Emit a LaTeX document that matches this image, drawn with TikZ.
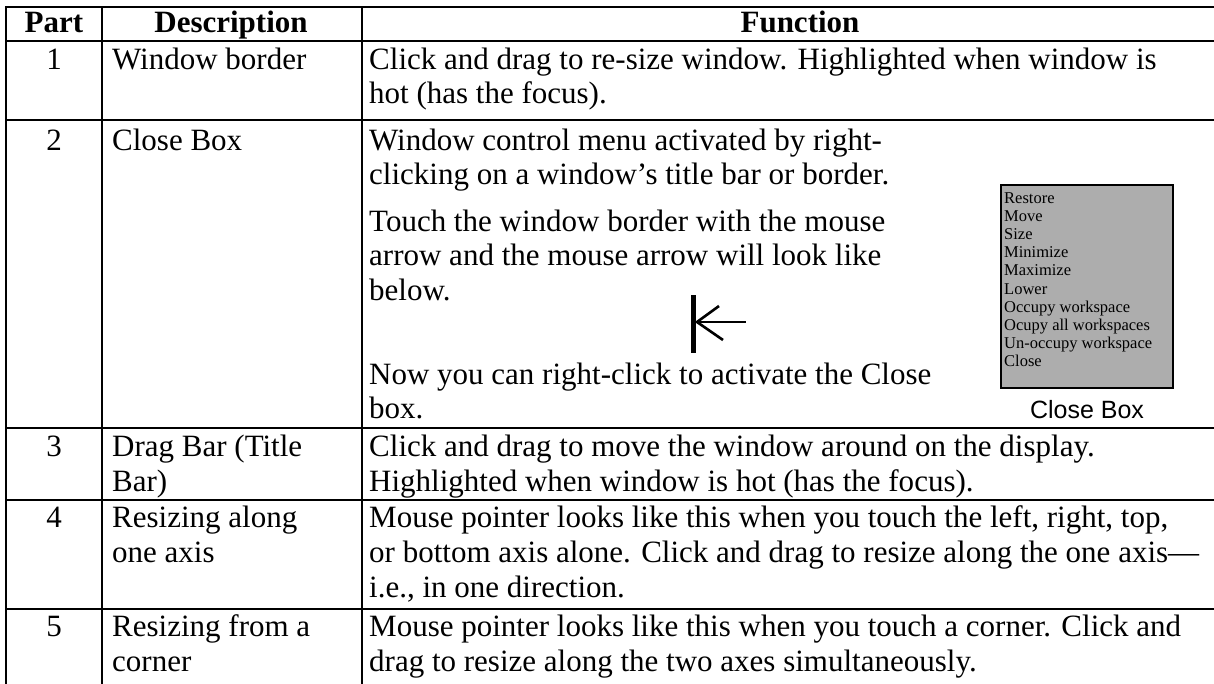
\documentclass[tikz,border=0pt]{standalone}
\usepackage{fontspec}
\setmainfont{Liberation Serif}
\newfontfamily\capfont{Liberation Sans}
\begin{document}
\begin{tikzpicture}[x=1pt,y=-1pt,
  txt/.style={anchor=base west,inner sep=0pt,font=\fontsize{31}{34}\selectfont},
  ctr/.style={anchor=base,inner sep=0pt,font=\fontsize{31}{34}\selectfont},
  hdr/.style={anchor=base,inner sep=0pt,font=\fontsize{31}{34}\selectfont\bfseries},
  menuitem/.style={anchor=base west,inner sep=0pt,font=\fontsize{16.5}{18}\selectfont},
  rule/.style={line width=1.8pt,line cap=rect},
  cursor/.style={line width=2.6pt}]
\useasboundingbox (0,0) rectangle (1214,683);
% grid
\draw[rule] (6,7) -- (1216,7);
\draw[rule] (6,41) -- (1216,41);
\draw[rule] (6,120) -- (1216,120);
\draw[rule] (6,428) -- (1216,428);
\draw[rule] (6,500) -- (1216,500);
\draw[rule] (6,609) -- (1216,609);
\draw[rule] (6,7) -- (6,690);
\draw[rule] (102,7) -- (102,690);
\draw[rule] (362,7) -- (362,690);
% header
\node[hdr] (hpart) at (54,32) {Part};
\node[hdr] (hdesc) at (231,32) {Description};
\node[hdr] (hfunc) at (800,32) {Function};
% row 1
\node[ctr] (n1) at (54,69) {1};
\node[txt] (d1) at (112,69) {Window border};
\node[txt] (f1a) at (369,69) {Click and drag to re-size window. Highlighted when window is};
\node[txt] (f1b) at (369,103.5) {hot (has the focus).};
% row 2
\node[ctr] (n2) at (54,150) {2};
\node[txt] (d2) at (112,150) {Close Box};
\node[txt] (f2a) at (369,150) {Window control menu activated by right-};
\node[txt] (f2b) at (369,184.5) {clicking on a window’s title bar or border.};
\node[txt] (f2c) at (369,231) {Touch the window border with the mouse};
\node[txt] (f2d) at (369,265.5) {arrow and the mouse arrow will look like};
\node[txt] (f2e) at (369,300) {below.};
\node[txt] (f2f) at (369,384) {Now you can right-click to activate the Close};
\node[txt] (f2g) at (369,418.5) {box.};
% cursor glyph
\draw[line width=5pt] (693,295) -- (693,353);
\draw[cursor] (696,322) -- (746,322);
\draw[cursor] (719,306) -- (697,322) -- (723,340);
% close-box menu
\draw[line width=2.4pt,fill=black!32] (1001,185) rectangle (1173,388);
\foreach \t [count=\i from 0] in {Restore,Move,Size,Minimize,Maximize,Lower,Occupy workspace,Ocupy all workspaces,Un-occupy workspace,Close}
  \node[menuitem] (m\i) at (1004,{203+18.2*\i}) {\t};
\node[anchor=base,inner sep=0pt,font=\capfont\fontsize{25}{28}\selectfont] (cap) at (1087,418) {Close Box};
% row 3
\node[ctr] (n3) at (54,456) {3};
\node[txt] (d3a) at (112,456) {Drag Bar (Title};
\node[txt] (d3b) at (112,491) {Bar)};
\node[txt] (f3a) at (369,456) {Click and drag to move the window around on the display.};
\node[txt] (f3b) at (369,491) {Highlighted when window is hot (has the focus).};
% row 4
\node[ctr] (n4) at (54,527) {4};
\node[txt] (d4a) at (112,527) {Resizing along};
\node[txt] (d4b) at (112,562) {one axis};
\node[txt] (f4a) at (369,527) {Mouse pointer looks like this when you touch the left, right, top,};
\node[txt] (f4b) at (369,562) {or bottom axis alone. Click and drag to resize along the one axis—};
\node[txt] (f4c) at (369,597) {i.e., in one direction.};
% row 5
\node[ctr] (n5) at (54,636) {5};
\node[txt] (d5a) at (112,636) {Resizing from a};
\node[txt] (d5b) at (112,671) {corner};
\node[txt] (f5a) at (369,636) {Mouse pointer looks like this when you touch a corner. Click and};
\node[txt] (f5b) at (369,671) {drag to resize along the two axes simultaneously.};
\end{tikzpicture}
\end{document}
